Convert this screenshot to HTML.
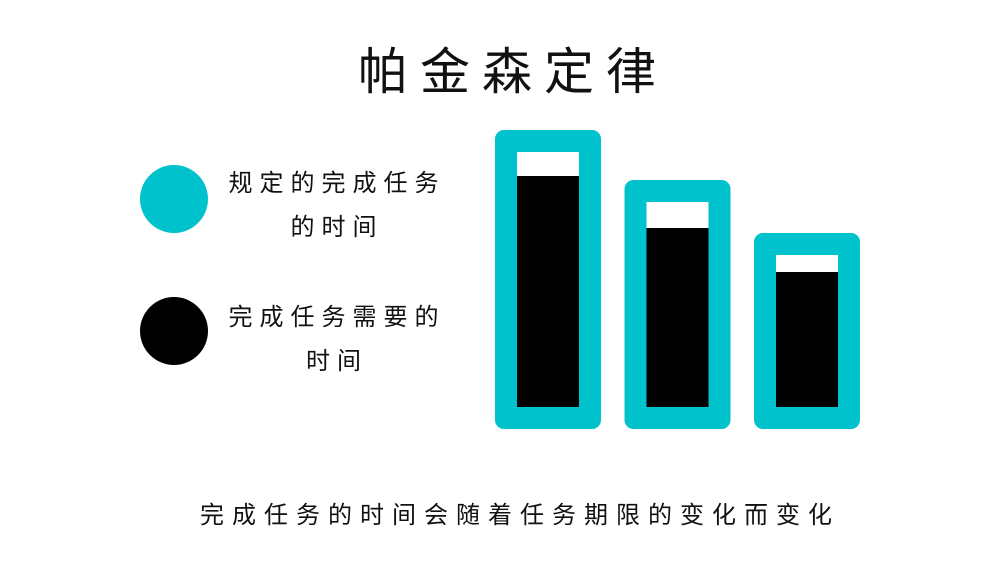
<!DOCTYPE html>
<html><head><meta charset="utf-8"><style>
body{margin:0;width:1000px;height:562px;background:#fff;overflow:hidden;font-family:"Liberation Sans","Noto Sans CJK SC",sans-serif;position:relative}
.t{position:absolute;color:#111;white-space:nowrap}
</style></head><body>
<div class="t" style="left:358px;top:32px;font-size:50px;letter-spacing:12px;">帕金森定律</div>
<div style="position:absolute;left:140px;top:165px;width:68px;height:68px;border-radius:50%;background:#00c2cc"></div>
<div class="t" style="left:221px;top:162px;width:232px;text-align:center;font-size:24px;line-height:44px;letter-spacing:7px">规定的完成任务<br>的时间</div>
<div style="position:absolute;left:140px;top:297px;width:68px;height:68px;border-radius:50%;background:#000"></div>
<div class="t" style="left:221px;top:296px;width:232px;text-align:center;font-size:24px;line-height:44px;letter-spacing:7px">完成任务需要的<br>时间</div>
<svg id="chart" width="1000" height="562" style="position:absolute;left:0;top:0"></svg>
<div class="t" style="left:200px;top:495px;font-size:24px;letter-spacing:8px">完成任务的时间会随着任务期限的变化而变化</div>
<script>
const categories=["long-deadline","medium-deadline","short-deadline"];
const allotted=[255,205,152];
const needed=[231,179,135];
const svg=document.getElementById('chart');
const NS='http://www.w3.org/2000/svg';
const x0=517,step=129.5,innerW=62,base=407,pad=22;
function xs(i){return x0+i*step;}
function ys(v){return base-v;}
function mk(tag,attrs){const e=document.createElementNS(NS,tag);for(const k in attrs)e.setAttribute(k,attrs[k]);svg.appendChild(e);return e;}
categories.forEach((c,i)=>{
  const x=xs(i);
  const o=mk('rect',{x:x-pad,y:ys(allotted[i])-pad,width:innerW+2*pad,height:allotted[i]+2*pad,rx:9,fill:'#00c2cc'});
  
  
  const w=mk('rect',{x:x,y:ys(allotted[i]),width:innerW,height:allotted[i],fill:'#fff'});
  
  
  const b=mk('rect',{x:x,y:ys(needed[i]),width:innerW,height:needed[i],fill:'#000'});
  
  
});
</script>
</body></html>
